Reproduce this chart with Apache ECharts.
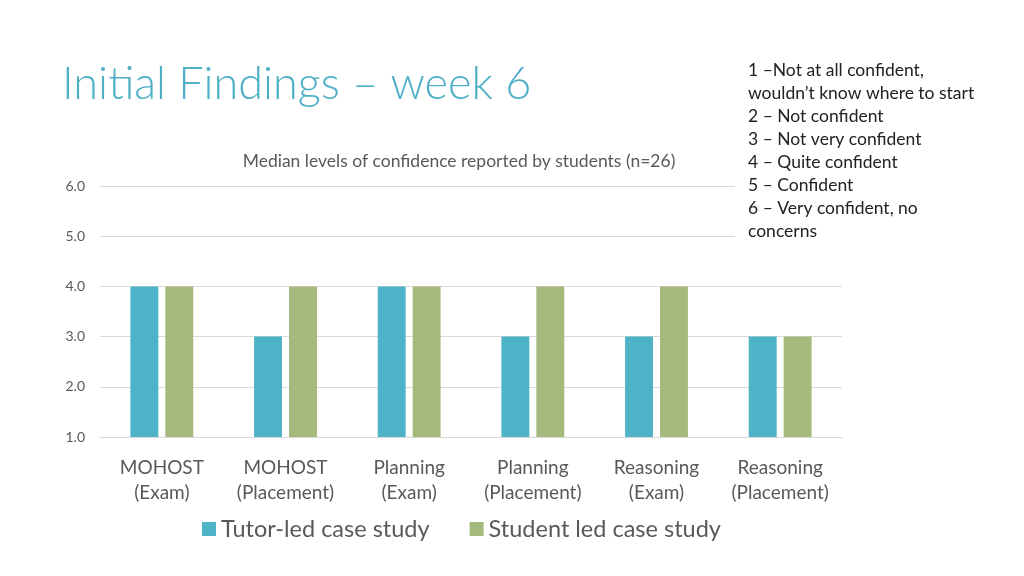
<!DOCTYPE html>
<html>
<head>
    <meta charset="utf-8">
    <title>Initial Findings - week 6</title>
    <script src="https://cdn.jsdelivr.net/npm/echarts@6/dist/echarts.min.js"></script>
    <style>
        html, body { margin: 0; padding: 0; background: #fff; }
        #main { width: 1024px; height: 576px; }
    </style>
</head>
<body>
<div id="main"></div>
<script>
    // data
    var categories = ['MOHOST\n(Exam)', 'MOHOST\n(Placement)', 'Planning\n(Exam)', 'Planning\n(Placement)', 'Reasoning\n(Exam)', 'Reasoning\n(Placement)'];
    var tutorLed = [4, 3, 4, 3, 3, 3];
    var studentLed = [4, 4, 4, 4, 4, 3];
    var seriesNames = ['Tutor-led case study', 'Student led case study'];
    var scaleNotes = [
        '1 \u2013Not at all confident,',
        'wouldn\u2019t know where to start',
        '2 \u2013 Not confident',
        '3 \u2013 Not very confident',
        '4 \u2013 Quite confident',
        '5 \u2013 Confident',
        '6 \u2013 Very confident, no',
        'concerns'
    ];

    var grey = '#595959';
    var myChart = echarts.init(document.getElementById('main'));
    var option = {
        animation: false,
        color: ['#4FB3C8', '#A6B97D'],
        title: [{
            text: 'Median levels of confidence reported by students (n=26)',
            left: 454, top: 147, textAlign: 'center',
            textStyle: { fontFamily: 'Lato', fontSize: 17.5, fontWeight: 'normal', color: grey }
        }],
        legend: {
            data: seriesNames,
            bottom: 30, left: 197,
            itemWidth: 14, itemHeight: 14, itemGap: 40,
            icon: 'rect',
            textStyle: { fontFamily: 'Lato', fontSize: 23.5, color: grey }
        },
        grid: { left: 100, right: 182, top: 186, bottom: 139, containLabel: false },
        xAxis: {
            type: 'category',
            data: categories,
            axisLine: { lineStyle: { color: '#d9d9d9' } },
            axisTick: { show: false },
            axisLabel: { fontFamily: 'Lato', fontSize: 19, color: grey, lineHeight: 25, margin: 18, interval: 0 }
        },
        yAxis: {
            type: 'value',
            min: 1, max: 6, interval: 1,
            axisLine: { show: false },
            axisTick: { show: false },
            splitLine: { lineStyle: { color: '#d9d9d9' } },
            axisLabel: {
                fontFamily: 'Lato', fontSize: 14, color: grey, margin: 15,
                formatter: function (v) { return v.toFixed(1); }
            }
        },
        series: [
            { name: seriesNames[0], type: 'bar', data: tutorLed, barWidth: '22.6%', barGap: '25%' },
            { name: seriesNames[1], type: 'bar', data: studentLed, barWidth: '22.6%' }
        ],
        graphic: [
            {
                type: 'text', left: 62, top: 62, z: 100,
                style: { text: 'Initial Findings \u2013 week 6', fill: '#4FAFC7', font: '300 45px Lato' }
            },
            {
                type: 'rect', left: 735, top: 55, z: 99,
                shape: { width: 289, height: 195 },
                style: { fill: '#fff' }
            },
            {
                type: 'text', left: 748, top: 59, z: 100,
                style: { text: scaleNotes.join('\n'), fill: '#222', font: '17.5px Lato', lineHeight: 23 }
            }
        ]
    };
    myChart.setOption(option);
</script>
</body>
</html>
